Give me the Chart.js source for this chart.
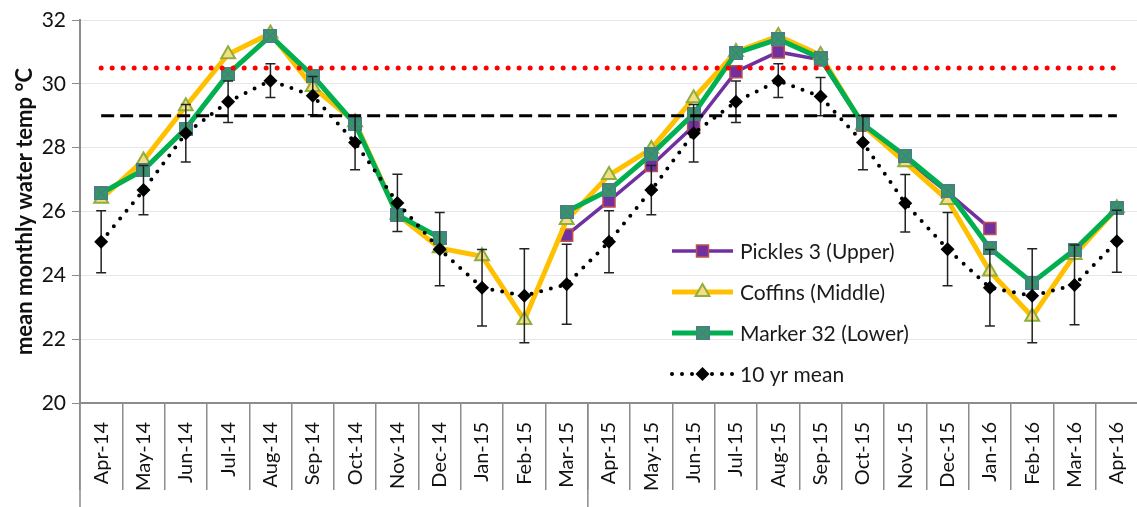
<!DOCTYPE html>
<html>
<head>
<meta charset="utf-8">
<script src="https://cdn.jsdelivr.net/npm/chart.js@4.4.0/dist/chart.umd.min.js"></script>
<style>
  html, body { margin: 0; padding: 0; background: #fff; overflow: hidden; }
  #wrap { width: 1150px; height: 507px; }
</style>
</head>
<body>
<div id="wrap"><canvas id="tempChart" width="1150" height="507"></canvas></div>
<script>
// Months on the x axis
const months = ['Apr-14', 'May-14', 'Jun-14', 'Jul-14', 'Aug-14', 'Sep-14', 'Oct-14', 'Nov-14', 'Dec-14',
  'Jan-15', 'Feb-15', 'Mar-15', 'Apr-15', 'May-15', 'Jun-15', 'Jul-15', 'Aug-15', 'Sep-15', 'Oct-15',
  'Nov-15', 'Dec-15', 'Jan-16', 'Feb-16', 'Mar-16', 'Apr-16'];

// Mean monthly water temp per site (°C)
const pickles = [null, null, null, null, null, null, null, null, null, null, null,
  25.26, 26.33, 27.44, 28.68, 30.38, 31.0, 30.75, 28.7, 27.65, 26.6, 25.47, null, null, null];
const coffins = [26.4, 27.6, 29.3, 30.93, 31.58, 29.9, 28.8, 25.9, 24.85, 24.6, 22.6, 25.73,
  27.14, 27.96, 29.55, 31.0, 31.5, 30.9, 28.7, 27.54, 26.36, 24.12, 22.7, 24.64, 26.1];
const marker32 = [26.57, 27.3, 28.6, 30.31, 31.5, 30.25, 28.74, 25.89, 25.18, null, null, 26.0,
  26.67, 27.79, 29.06, 30.96, 31.4, 30.8, 28.73, 27.74, 26.65, 24.85, 23.77, 24.8, 26.1];

// 10 yr mean and its error bar half-width
const tenYrMean = [25.05, 26.67, 28.45, 29.44, 30.1, 29.63, 28.16, 26.27, 24.82, 23.61, 23.36, 23.72,
  25.05, 26.67, 28.45, 29.44, 30.1, 29.6, 28.16, 26.26, 24.82, 23.61, 23.36, 23.7, 25.07];
const tenYrErr = [0.97, 0.77, 0.9, 0.65, 0.53, 0.6, 0.85, 0.9, 1.15, 1.2, 1.47, 1.25,
  0.97, 0.77, 0.9, 0.65, 0.53, 0.6, 0.85, 0.9, 1.15, 1.2, 1.47, 1.25, 0.97];

// Threshold lines (°C)
const bleachThreshold = 30.5;
const mmmThreshold = 29;

// y axis ticks
const yMin = 20, yMax = 32, yStep = 2;

// green square with an x in it
function squareX(size) {
  const c = document.createElement('canvas');
  c.width = size; c.height = size;
  const g = c.getContext('2d');
  g.fillStyle = '#2f9d5d';
  g.fillRect(0, 0, size, size);
  g.strokeStyle = '#4d7a8c';
  g.lineWidth = 1.5;
  g.strokeRect(0.75, 0.75, size - 1.5, size - 1.5);
  g.beginPath();
  g.moveTo(2.5, 2.5); g.lineTo(size - 2.5, size - 2.5);
  g.moveTo(size - 2.5, 2.5); g.lineTo(2.5, size - 2.5);
  g.stroke();
  return c;
}
const greenMarker = squareX(14);

// error bars for the 10 yr mean, drawn just before that series
const errorBars = {
  id: 'errorBars',
  beforeDatasetDraw(chart, args) {
    if (chart.data.datasets[args.index].label !== '10 yr mean') return;
    const xs = chart.scales.x, ys = chart.scales.y, ctx = chart.ctx;
    ctx.save();
    ctx.strokeStyle = '#222';
    ctx.lineWidth = 1.5;
    tenYrMean.forEach((v, i) => {
      const px = xs.getPixelForValue(i);
      const top = ys.getPixelForValue(v + tenYrErr[i]);
      const bot = ys.getPixelForValue(v - tenYrErr[i]);
      ctx.beginPath();
      ctx.moveTo(px, top); ctx.lineTo(px, bot);
      ctx.moveTo(px - 5, top); ctx.lineTo(px + 5, top);
      ctx.moveTo(px - 5, bot); ctx.lineTo(px + 5, bot);
      ctx.stroke();
    });
    ctx.restore();
  }
};

// long divider lines below the axis (start and year split)
const axisDividers = {
  id: 'axisDividers',
  afterDraw(chart) {
    const ctx = chart.ctx, xs = chart.scales.x, area = chart.chartArea;
    const split = (xs.getPixelForValue(11) + xs.getPixelForValue(12)) / 2;
    ctx.save();
    ctx.strokeStyle = '#8c8c8c';
    ctx.lineWidth = 1.5;
    ctx.beginPath();
    ctx.moveTo(area.left, area.bottom); ctx.lineTo(area.left, chart.height);
    ctx.moveTo(split, area.bottom); ctx.lineTo(split, chart.height);
    ctx.stroke();
    ctx.restore();
  }
};

// legend inside the plot
const insideLegend = {
  id: 'insideLegend',
  afterDraw(chart, args, opts) {
    const ctx = chart.ctx;
    const items = chart.data.datasets.filter(d => d.inLegend);
    ctx.save();
    items.forEach((d, i) => {
      const y = opts.top + i * opts.rowGap;
      ctx.strokeStyle = d.borderColor;
      ctx.lineWidth = d.borderWidth;
      ctx.lineCap = d.borderCapStyle || 'butt';
      ctx.setLineDash(d.borderDash || []);
      ctx.beginPath();
      ctx.moveTo(opts.left, y); ctx.lineTo(opts.left + opts.lineLen, y);
      ctx.stroke();
      ctx.setLineDash([]);
      ctx.fillStyle = d.pointBackgroundColor || '#000';
      ctx.strokeStyle = d.pointBorderColor || '#000';
      ctx.lineWidth = d.pointBorderWidth || 0;
      Chart.helpers.drawPoint(ctx, {
        pointStyle: d.pointStyle, radius: d.pointRadius, rotation: 0, borderWidth: d.pointBorderWidth || 0
      }, opts.left + opts.lineLen / 2, y);
      ctx.fillStyle = '#1a1a1a';
      ctx.font = opts.font;
      ctx.textBaseline = 'middle';
      ctx.fillText(d.label, opts.left + opts.lineLen + 7, y + 1);
    });
    ctx.restore();
  }
};

const ctx = document.getElementById('tempChart').getContext('2d');
const tempChart = new Chart(ctx, {
  type: 'line',
  data: {
    labels: months,
    datasets: [
      {
        label: 'bleaching', data: months.map(() => bleachThreshold),
        borderColor: '#ff0000', borderWidth: 5, borderDash: [0, 11], borderCapStyle: 'round',
        pointRadius: 0, order: 0
      },
      {
        label: 'mmm', data: months.map(() => mmmThreshold),
        borderColor: '#000', borderWidth: 3, borderDash: [13, 6],
        pointRadius: 0, order: 0
      },
      {
        label: 'Pickles 3 (Upper)', data: pickles, inLegend: true,
        borderColor: '#7030a0', borderWidth: 3.5,
        pointStyle: 'rect', pointRadius: 8.5, pointBackgroundColor: '#7030a0',
        pointBorderColor: '#c0504d', pointBorderWidth: 1.5, order: 4
      },
      {
        label: 'Coffins (Middle)', data: coffins, inLegend: true,
        borderColor: '#ffc000', borderWidth: 5,
        pointStyle: 'triangle', pointRadius: 8, pointBackgroundColor: '#f3dd85',
        pointBorderColor: '#8fae3c', pointBorderWidth: 2, order: 3
      },
      {
        label: 'Marker 32 (Lower)', data: marker32, inLegend: true,
        borderColor: '#00b050', borderWidth: 5,
        pointStyle: greenMarker, pointRadius: 7, order: 2
      },
      {
        label: '10 yr mean', data: tenYrMean, inLegend: true,
        borderColor: '#000', borderWidth: 4, borderDash: [0, 10], borderCapStyle: 'round',
        pointStyle: 'rectRot', pointRadius: 7, pointBackgroundColor: '#000',
        pointBorderColor: '#000', pointBorderWidth: 0, order: 1
      }
    ]
  },
  options: {
    responsive: false,
    animation: false,
    events: [],
    layout: { padding: { top: 20, right: 8, left: 0, bottom: 0 } },
    elements: { line: { tension: 0 } },
    plugins: {
      legend: { display: false },
      tooltip: { enabled: false },
      insideLegend: { left: 672, top: 251, rowGap: 41, lineLen: 61, font: '21px Lato' }
    },
    scales: {
      x: {
        offset: true,
        grid: { offset: true, drawOnChartArea: false, tickLength: 87, color: '#8c8c8c', lineWidth: 1.5 },
        border: { color: '#8c8c8c', width: 2 },
        ticks: {
          autoSkip: false, minRotation: 90, maxRotation: 90, padding: -68,
          color: '#111', font: { family: 'Lato', size: 20 }
        },
        afterFit(scale) { scale.height = 104; }
      },
      y: {
        min: yMin, max: yMax,
        ticks: { stepSize: yStep, padding: 6, color: '#111', font: { family: 'Lato', size: 21 } },
        grid: { color: '#e6e6e6', lineWidth: 1, tickLength: 8, tickColor: '#8c8c8c' },
        border: { color: '#8c8c8c', width: 2 },
        title: {
          display: true, text: 'mean monthly water temp °C', color: '#111',
          font: { family: 'Lato', size: 22, weight: 'bold' }, padding: { top: 12, bottom: 0 }
        },
        afterFit(scale) { scale.width = 80; }
      }
    }
  },
  plugins: [errorBars, axisDividers, insideLegend]
});
</script>
</body>
</html>
